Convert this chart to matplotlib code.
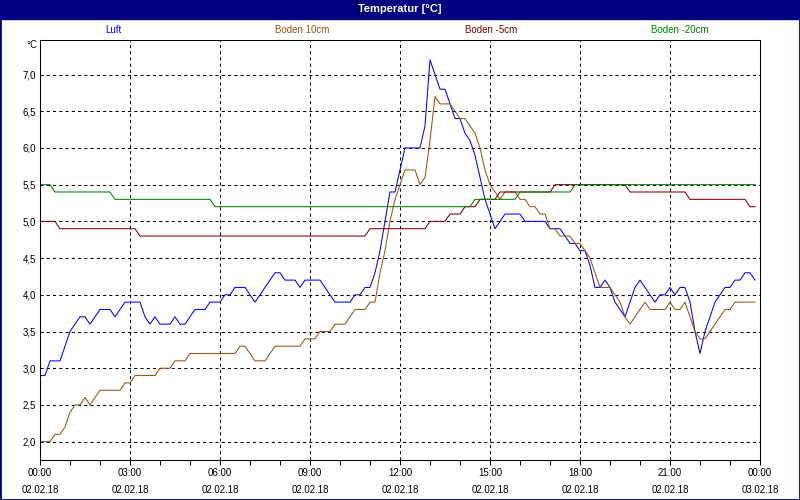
import matplotlib
matplotlib.use('Agg')
import matplotlib.pyplot as plt
from matplotlib.patches import Rectangle
from matplotlib.ticker import MultipleLocator, FuncFormatter

plt.rcParams['font.family'] = ['Liberation Sans', 'DejaVu Sans']

# Zeit in Minuten ab 02.02.18 00:00, Messwerte alle 10 Minuten
minutes = list(range(0, 1440, 10))

luft = [
    2.9, 2.9, 3.1, 3.1, 3.1, 3.3, 3.5, 3.6, 3.7, 3.7, 3.6, 3.7,
    3.8, 3.8, 3.8, 3.7, 3.8, 3.9, 3.9, 3.9, 3.9, 3.7, 3.6, 3.7,
    3.6, 3.6, 3.6, 3.7, 3.6, 3.6, 3.7, 3.8, 3.8, 3.8, 3.9, 3.9,
    3.9, 4.0, 4.0, 4.1, 4.1, 4.1, 4.0, 3.9, 4.0, 4.1, 4.2, 4.3,
    4.3, 4.2, 4.2, 4.2, 4.1, 4.2, 4.2, 4.2, 4.2, 4.1, 4.0, 3.9,
    3.9, 3.9, 3.9, 4.0, 4.0, 4.1, 4.1, 4.3, 4.6, 5.0, 5.4, 5.4,
    5.7, 6.0, 6.0, 6.0, 6.0, 6.3, 7.2, 7.0, 6.8, 6.8, 6.6, 6.4,
    6.4, 6.2, 6.1, 5.9, 5.6, 5.3, 5.1, 4.9, 5.0, 5.1, 5.1, 5.1,
    5.1, 5.0, 5.0, 5.0, 5.0, 5.0, 4.9, 4.9, 4.9, 4.8, 4.7, 4.7,
    4.6, 4.6, 4.4, 4.1, 4.1, 4.2, 4.1, 3.9, 3.8, 3.7, 3.9, 4.1,
    4.2, 4.1, 4.0, 3.9, 4.0, 4.0, 4.1, 4.0, 4.1, 4.1, 3.9, 3.5,
    3.2, 3.5, 3.7, 3.9, 4.0, 4.1, 4.1, 4.2, 4.2, 4.3, 4.3, 4.2,
]

boden_10 = [
    2.0, 2.0, 2.0, 2.1, 2.1, 2.2, 2.4, 2.5, 2.5, 2.6, 2.5, 2.6,
    2.7, 2.7, 2.7, 2.7, 2.7, 2.8, 2.8, 2.9, 2.9, 2.9, 2.9, 2.9,
    3.0, 3.0, 3.0, 3.1, 3.1, 3.1, 3.2, 3.2, 3.2, 3.2, 3.2, 3.2,
    3.2, 3.2, 3.2, 3.2, 3.3, 3.3, 3.2, 3.1, 3.1, 3.1, 3.2, 3.3,
    3.3, 3.3, 3.3, 3.3, 3.3, 3.4, 3.4, 3.4, 3.5, 3.5, 3.5, 3.6,
    3.6, 3.6, 3.7, 3.8, 3.8, 3.8, 3.9, 3.9, 4.3, 4.6, 5.0, 5.3,
    5.5, 5.7, 5.7, 5.7, 5.5, 5.6, 6.1, 6.7, 6.6, 6.6, 6.6, 6.5,
    6.4, 6.4, 6.3, 6.2, 6.0, 5.7, 5.5, 5.4, 5.3, 5.4, 5.4, 5.4,
    5.3, 5.3, 5.2, 5.2, 5.1, 5.1, 4.9, 4.9, 4.8, 4.8, 4.8, 4.7,
    4.7, 4.6, 4.5, 4.3, 4.1, 4.1, 4.1, 4.0, 3.9, 3.7, 3.6, 3.7,
    3.8, 3.9, 3.8, 3.8, 3.8, 3.8, 3.9, 3.8, 3.8, 3.9, 3.7, 3.5,
    3.4, 3.4, 3.5, 3.6, 3.7, 3.8, 3.8, 3.9, 3.9, 3.9, 3.9, 3.9,
]

# Boden -5cm / -20cm aendern sich selten: nur die Knickpunkte
boden_5_min = [0, 30, 40, 190, 200, 650, 660, 770, 780, 810, 820, 840, 850,
               870, 880, 910, 920, 1020, 1030, 1170, 1180, 1290, 1300, 1410,
               1420, 1430]
boden_5 = [5.0, 5.0, 4.9, 4.9, 4.8, 4.8, 4.9, 4.9, 5.0, 5.0, 5.1, 5.1, 5.2,
           5.2, 5.3, 5.3, 5.4, 5.4, 5.5, 5.5, 5.4, 5.4, 5.3, 5.3, 5.2, 5.2]

boden_20_min = [0, 20, 30, 140, 150, 340, 350, 860, 870, 950, 960, 1060,
                1070, 1430]
boden_20 = [5.5, 5.5, 5.4, 5.4, 5.3, 5.3, 5.2, 5.2, 5.3, 5.3, 5.4, 5.4,
            5.5, 5.5]

series_names = ['Luft', 'Boden 10cm', 'Boden -5cm', 'Boden -20cm']
series_colors = ['#0000ff', '#99520f', '#800000', '#008000']

tick_min = [0, 180, 360, 540, 720, 900, 1080, 1260, 1440]
tick_times = ['00:00', '03:00', '06:00', '09:00', '12:00', '15:00',
              '18:00', '21:00', '00:00']
tick_dates = ['02.02.18'] * 8 + ['03.02.18']
y_ticks = [2.0, 2.5, 3.0, 3.5, 4.0, 4.5, 5.0, 5.5, 6.0, 6.5, 7.0]

navy = '#000080'
fs = 7

fig = plt.figure(figsize=(8, 5), dpi=100)
fig.patch.set_facecolor('white')

# Titelleiste
fig.patches.append(Rectangle((0, 1 - 19 / 500), 1, 19 / 500,
                             transform=fig.transFigure, color=navy, zorder=0))
fig.text(0.5, 1 - 9.5 / 500, 'Temperatur [°C]', color='white',
         fontsize=8, fontweight='bold', ha='center', va='center')
fig.patches.append(Rectangle((0, 0), 1, 1, transform=fig.transFigure,
                             fill=False, edgecolor=navy, lw=2, zorder=5))

# Legende als Textzeile
for i, (name, col) in enumerate(zip(series_names, series_colors)):
    fig.text((113 + i * 189) / 800, 1 - 30 / 500, name, color=col,
             fontsize=fs, ha='center', va='center')

ax = fig.add_axes([40 / 800, 40 / 500, 720 / 800, 420 / 500])

ax.plot(minutes, luft, color=series_colors[0], lw=0.75)
ax.plot(minutes, boden_10, color=series_colors[1], lw=0.75)
ax.plot(boden_5_min, boden_5, color=series_colors[2], lw=0.75)
ax.plot(boden_20_min, boden_20, color=series_colors[3], lw=0.75)

ax.set_xlim(0, 1440)
ax.set_ylim(1.75, 7.47)

ax.set_xticks(tick_min, [t + '\n' + d for t, d in zip(tick_times, tick_dates)])
ax.xaxis.set_minor_locator(MultipleLocator(60))
ax.set_yticks(y_ticks)
ax.yaxis.set_major_formatter(FuncFormatter(lambda v, p: f'{v:.1f}'.replace('.', ',')))

ax.tick_params(axis='x', which='both', direction='out', length=3.5,
               width=0.75, labelsize=fs, pad=2)
ax.tick_params(axis='y', length=0, labelsize=fs, pad=3)
for lab in ax.get_xticklabels():
    lab.set_linespacing(1.9)

ax.grid(True, which='major', color='black', lw=0.75, linestyle=(0, (3, 3)))
ax.set_axisbelow(True)
for sp in ax.spines.values():
    sp.set_linewidth(0.75)

fig.text(32 / 800, 1 - 45 / 500, '°C', fontsize=fs, ha='center', va='center')

fig.savefig('out.png', dpi=100)
